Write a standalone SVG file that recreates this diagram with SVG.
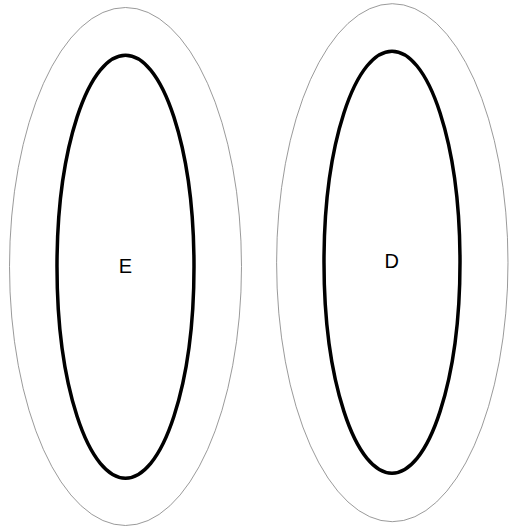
<svg xmlns="http://www.w3.org/2000/svg" width="509" height="527" viewBox="0 0 509 527">
<style>
.outer{fill:none;stroke:#808080;stroke-width:0.8}
.inner{fill:none;stroke:#000;stroke-width:3.5}
.lbl{font-family:"Liberation Sans",Arial,sans-serif;font-size:20px;fill:#000;text-anchor:middle}
</style>
<rect width="509" height="527" fill="#fff"/>
<g id="node-E">
<ellipse class="outer" cx="125.5" cy="266.5" rx="116" ry="259"/>
<ellipse class="inner" cx="125.5" cy="266.7" rx="68.5" ry="211.5"/>
<text class="lbl" x="125.3" y="272.7">E</text>
</g>
<g id="node-D">
<ellipse class="outer" cx="392.3" cy="262.7" rx="115.7" ry="259"/>
<ellipse class="inner" cx="392" cy="262.2" rx="68" ry="211"/>
<text class="lbl" x="391.7" y="268">D</text>
</g>
<g id="connectors"/>
</svg>
